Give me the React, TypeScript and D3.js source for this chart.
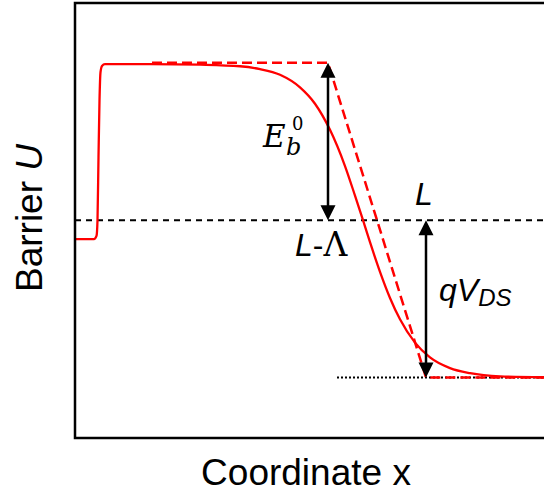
import React from "react";
import * as d3 from "d3";

const W = 544;
const H = 497;

// solid barrier profile (x: coordinate, U: normalised barrier)
const barrierX = [0, 1.9, 2.15, 2.25, 2.35, 2.45, 2.55, 2.7, 3.0, 7.5, 12.5, 16.5, 18.5, 20.5, 22.5, 24, 25.5, 27, 28, 28.8, 29.5, 30.5, 31.5, 32.5, 34, 35.5, 37.5, 39.5, 42.5, 47];
const barrierU = [0.44, 0.44, 0.45, 0.5, 0.7, 0.88, 0.97, 0.99, 0.996, 0.996, 0.994, 0.989, 0.98, 0.962, 0.922, 0.87, 0.787, 0.672, 0.578, 0.5, 0.43, 0.336, 0.253, 0.185, 0.111, 0.064, 0.03, 0.014, 0.004, 0.001];

// idealised (dashed) barrier
const idealX = [7.7, 25.3, 35.1, 47];
const idealU = [1, 1, 0, 0];

// reference levels
const levelL = 0.5;
const levelDrain = 0;
const drainStart = 26.2;
const arrowEbX = 25.3;
const arrowQvX = 35.1;

const SANS = "'Liberation Sans', Arial, sans-serif";
const SERIF = "'DejaVu Serif', serif";

export default function App() {
  const x = d3.scaleLinear().domain([0, 47]).range([75, 545]);
  const y = d3.scaleLinear().domain([-0.192, 1.19]).range([438, 3]);

  const solid = d3
    .line<number>()
    .x((d, i) => x(barrierX[i]))
    .y((d) => y(d))
    .curve(d3.curveMonotoneX)(barrierU);

  const ideal = d3
    .line<number>()
    .x((d, i) => x(idealX[i]))
    .y((d) => y(d))(idealU);

  // double headed vertical arrow
  const head = 15;
  const half = 7.5;
  const arrow = (xv: number, u1: number, u2: number) => {
    const px = x(xv);
    const yTop = y(u1);
    const yBot = y(u2);
    const p = d3.path();
    p.moveTo(px, yTop);
    p.lineTo(px - half, yTop + head);
    p.lineTo(px + half, yTop + head);
    p.closePath();
    p.moveTo(px, yBot);
    p.lineTo(px - half, yBot - head);
    p.lineTo(px + half, yBot - head);
    p.closePath();
    return (
      <g>
        <line x1={px} x2={px} y1={yTop + head - 1} y2={yBot - head + 1} stroke="#000" strokeWidth={2.5} />
        <path d={p.toString()} fill="#000" />
      </g>
    );
  };

  const ax = x(arrowEbX);
  const qx = x(arrowQvX);

  return (
    <div style={{ position: "absolute", left: 0, top: 0 }}>
      <svg width={W} height={H} style={{ display: "block", background: "#fff" }}>
        <line x1={x(0)} x2={x(47)} y1={y(levelL)} y2={y(levelL)} stroke="#000" strokeWidth={2} strokeDasharray="6,5" />
        <line x1={x(drainStart)} x2={x(47)} y1={y(levelDrain)} y2={y(levelDrain)} stroke="#000" strokeWidth={2} strokeDasharray="2,2" />

        <path d={ideal ?? ""} fill="none" stroke="#ff0000" strokeWidth={2.5} strokeDasharray="10,5" />
        <path d={solid ?? ""} fill="none" stroke="#ff0000" strokeWidth={2.3} />

        {arrow(arrowEbX, 1, levelL)}
        {arrow(arrowQvX, levelL, levelDrain)}

        <rect x={x(0)} y={y(1.19)} width={480} height={y(-0.192) - y(1.19)} fill="none" stroke="#000" strokeWidth={2.5} />

        {/* E_b^0 */}
        <text x={ax - 65} y={y(1) + 84} fontFamily={SERIF} fontStyle="italic" fontSize={31}>E</text>
        <text x={ax - 42} y={y(1) + 92} fontFamily={SERIF} fontStyle="italic" fontSize={24}>b</text>
        <text x={ax - 36} y={y(1) + 67} fontFamily={SERIF} fontSize={18}>0</text>

        <text x={ax - 33} y={y(levelL) + 36} fontFamily={SANS} fontSize={32}>
          <tspan fontStyle="italic">L</tspan>
          <tspan>-</tspan>
          <tspan fontFamily={SERIF} fontSize={33}>Λ</tspan>
        </text>

        <text x={qx - 11} y={y(levelL) - 15} fontFamily={SANS} fontStyle="italic" fontSize={32}>L</text>

        <text x={qx + 13} y={y(levelL) + 81} fontFamily={SANS} fontStyle="italic" fontSize={32}>
          qV<tspan fontSize={24} dy={5}>DS</tspan>
        </text>

        <text transform="translate(42,218) rotate(-90)" textAnchor="middle" fontFamily={SANS} fontSize={37}>
          Barrier <tspan fontStyle="italic">U</tspan>
        </text>
        <text x={306} y={485} textAnchor="middle" fontFamily={SANS} fontSize={37}>Coordinate x</text>
      </svg>
    </div>
  );
}
